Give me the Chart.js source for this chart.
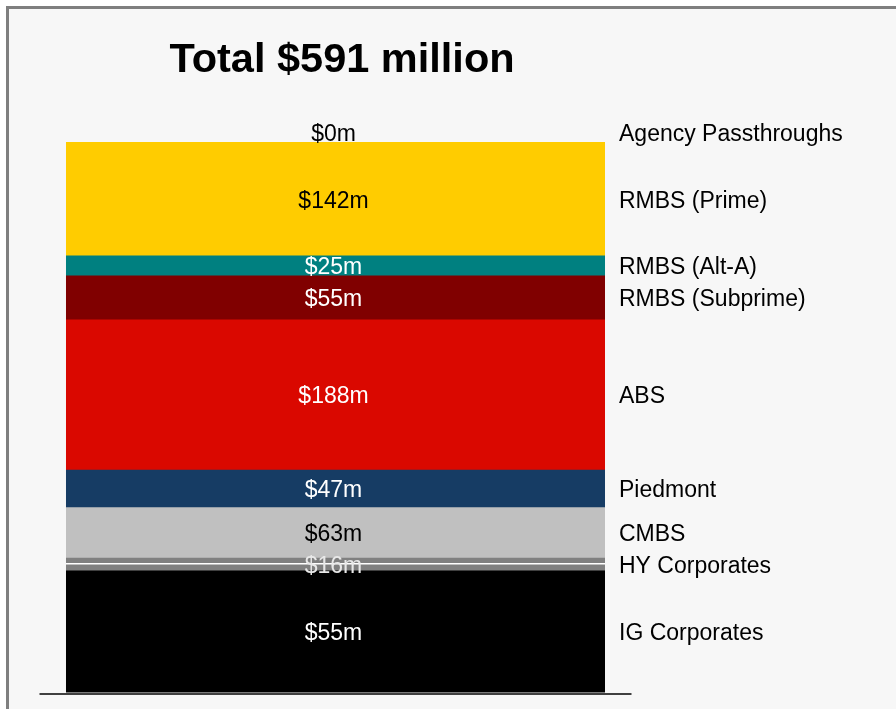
<!DOCTYPE html>
<html>
<head>
<meta charset="utf-8">
<script src="https://cdn.jsdelivr.net/npm/chart.js@4/dist/chart.umd.min.js"></script>
<style>
  html, body { margin: 0; padding: 0; background: #ffffff; overflow: hidden; }
  #frame {
    position: absolute; left: 6px; top: 6px; width: 1000px; height: 1000px;
    border: 3.5px solid #7f7f7f; background: #f7f7f7;
  }
  #c { position: absolute; left: 0; top: 0; }
</style>
</head>
<body>
<div id="frame"></div>
<canvas id="c" width="896" height="709"></canvas>
<script>
// Portfolio holdings by sector, $ millions (top of the stack first)
const sectors = ['Agency Passthroughs', 'RMBS (Prime)', 'RMBS (Alt-A)', 'RMBS (Subprime)',
                 'ABS', 'Piedmont', 'CMBS', 'HY Corporates', 'IG Corporates'];
const amounts = [0, 142, 25, 55, 188, 47, 63, 16, 55];
const fills = ['#ffcc00', '#ffcc00', '#008080', '#800000', '#da0800', '#163c64', '#c0c0c0', '#808080', '#000000'];
const valueInk = ['#000000', '#000000', '#ffffff', '#ffffff', '#ffffff', '#ffffff', '#000000', '#e8e8e8', '#ffffff'];

const axisMin = -97;
const axisMax = 600;
const total = amounts.reduce((a, b) => a + b, 0);
const FONT = '"Liberation Sans", Arial, Helvetica, sans-serif';

// Stack is built bottom-up, so walk the lists in reverse
const datasets = [];
for (let i = sectors.length - 1; i >= 0; i--) {
  const ds = {
    label: sectors[i],
    data: [amounts[i]],
    backgroundColor: fills[i],
    borderWidth: 0,
    inflateAmount: 0.5,
    barPercentage: 0.9088,
    categoryPercentage: 1.0,
    _ink: valueInk[i]
  };
  // bottom segment starts at the axis floor, like the category axis crossing
  if (i === sectors.length - 1) ds.base = axisMin;
  datasets.push(ds);
}

const segmentLabels = {
  id: 'segmentLabels',
  afterDatasetsDraw(chart) {
    const ctx = chart.ctx;
    const area = chart.chartArea;
    ctx.save();
    // baseline of the category axis
    ctx.strokeStyle = '#404040';
    ctx.lineWidth = 2;
    ctx.beginPath();
    ctx.moveTo(area.left, area.bottom + 1.5);
    ctx.lineTo(area.right, area.bottom + 1.5);
    ctx.stroke();

    ctx.font = '23px ' + FONT;
    chart.data.datasets.forEach((ds, di) => {
      const el = chart.getDatasetMeta(di).data[0];
      const top = Math.min(el.y, el.base);
      const bottom = Math.max(el.y, el.base);
      const v = ds.data[0];
      let cy = (top + bottom) / 2;
      if (ds.label === 'HY Corporates') {
        ctx.fillStyle = '#ffffff';
        ctx.fillRect(el.x - el.width / 2 - 0.5, Math.round(top + (bottom - top) * 0.35), el.width + 1, 1.5);
      }
      ctx.textAlign = 'center';
      if (v === 0) {
        ctx.textBaseline = 'alphabetic';
        ctx.fillStyle = '#000000';
        ctx.fillText('$' + v + 'm', el.x - 2, top - 1.5);
        cy = top - 9.5;
      } else {
        ctx.textBaseline = 'middle';
        ctx.fillStyle = ds._ink;
        ctx.fillText('$' + v + 'm', el.x - 2, cy + 2);
      }
      ctx.textAlign = 'left';
      ctx.textBaseline = 'middle';
      ctx.fillStyle = '#000000';
      ctx.fillText(ds.label, 619, cy + 2);
    });

    // headline
    ctx.font = 'bold 41.5px ' + FONT;
    ctx.textAlign = 'center';
    ctx.textBaseline = 'alphabetic';
    ctx.fillStyle = '#000000';
    ctx.fillText('Total $' + total + ' million', 342, 72);
    ctx.restore();
  }
};

new Chart(document.getElementById('c'), {
  type: 'bar',
  data: { labels: [''], datasets: datasets },
  options: {
    responsive: false,
    animation: false,
    devicePixelRatio: 1,
    layout: { padding: { left: 39.5, right: 264.5, top: 135.3, bottom: 16.5 } },
    scales: {
      x: { stacked: true, display: false },
      y: { stacked: true, display: false, min: axisMin, max: axisMax }
    },
    plugins: { legend: { display: false }, tooltip: { enabled: false }, title: { display: false } }
  },
  plugins: [segmentLabels]
});
</script>
</body>
</html>
